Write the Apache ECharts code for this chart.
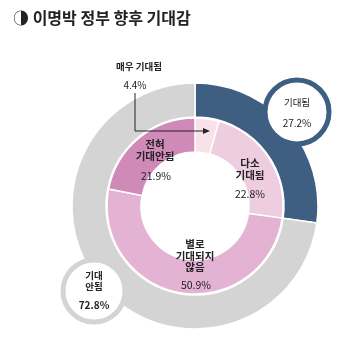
<!DOCTYPE html>
<html><head><meta charset="utf-8">
<script src="https://cdn.jsdelivr.net/npm/echarts@6/dist/echarts.min.js"></script>
<style>html,body{margin:0;padding:0;background:#fff}#c{width:345px;height:342px}</style>
</head><body><div id="c"></div>
<script>
const titleText = '◑ 이명박 정부 향후 기대감';
const outerNames = ['기대됨', '기대 안됨'];
const outerValues = [27.2, 72.8];
const innerNames = ['매우 기대됨', '다소 기대됨', '별로 기대되지 않음', '전혀 기대안됨'];
const innerValues = [4.4, 22.8, 50.9, 21.9];

const FONT = '"Noto Sans CJK KR", sans-serif';
const outerColors = ['#3e5e82', '#d4d4d4'];
const innerColors = ['#f9e1e9', '#efcde0', '#e4b3d4', '#d08ab8'];
const CX = 195, CY = 206;

function txt(x, y, text, size, weight, color) {
  return { type: 'text', x: x, y: y, z: 100,
    style: { text: text, fontSize: size, fontWeight: weight, fill: color || '#222',
      fontFamily: FONT, align: 'center', verticalAlign: 'middle', lineHeight: size + 1 } };
}

const chart = echarts.init(document.getElementById('c'), null, { renderer: 'canvas' });
chart.setOption({
  animation: false,
  title: { text: titleText, left: 8, top: 5,
    textStyle: { fontSize: 16, fontWeight: 'bold', color: '#222', fontFamily: FONT } },
  series: [
    { type: 'pie', center: [CX, CY], radius: [89, 123], startAngle: 90, clockwise: true,
      label: { show: false }, labelLine: { show: false }, silent: true,
      itemStyle: { borderColor: '#fff', borderWidth: 1.5 },
      data: outerValues.map((v, i) => ({ name: outerNames[i], value: v, itemStyle: { color: outerColors[i] } })) },
    { type: 'pie', center: [CX, CY], radius: [54, 88], startAngle: 90, clockwise: true,
      label: { show: false }, labelLine: { show: false }, silent: true,
      itemStyle: { borderColor: '#fff', borderWidth: 1.5 },
      data: innerValues.map((v, i) => ({ name: innerNames[i], value: v, itemStyle: { color: innerColors[i] } })) }
  ],
  graphic: [
    { type: 'circle', shape: { cx: 297, cy: 112, r: 32 }, z: 90,
      style: { fill: '#fff', stroke: outerColors[0], lineWidth: 5 } },
    { type: 'circle', shape: { cx: 94, cy: 291, r: 31 }, z: 90,
      style: { fill: '#fff', stroke: outerColors[1], lineWidth: 5 } },
    txt(297, 102, outerNames[0], 9.5, 'normal'),
    txt(297, 123, outerValues[0] + '%', 10, 'normal'),
    txt(94, 281, '기대\n안됨', 9.5, 'bold'),
    txt(94, 305, outerValues[1] + '%', 10, 'bold'),
    txt(139, 66, innerNames[0], 9.5, 'bold'),
    txt(135, 85, innerValues[0] + '%', 10, 'normal'),
    { type: 'polyline', z: 95, shape: { points: [[135, 93], [135, 131], [205, 131]] },
      style: { stroke: '#222', lineWidth: 1, fill: null } },
    { type: 'polygon', z: 95, shape: { points: [[210, 131], [203, 128], [203, 134]] },
      style: { fill: '#222' } },
    txt(155, 150, '전혀\n기대안됨', 10.5, 'bold'),
    txt(156, 176, innerValues[3] + '%', 10.5, 'normal'),
    txt(250, 169, '다소\n기대됨', 10.5, 'bold'),
    txt(250, 194, innerValues[1] + '%', 10.5, 'normal'),
    txt(195, 256, '별로\n기대되지\n않음', 10.5, 'bold'),
    txt(196, 285, innerValues[2] + '%', 10.5, 'normal')
  ]
});
</script></body></html>
